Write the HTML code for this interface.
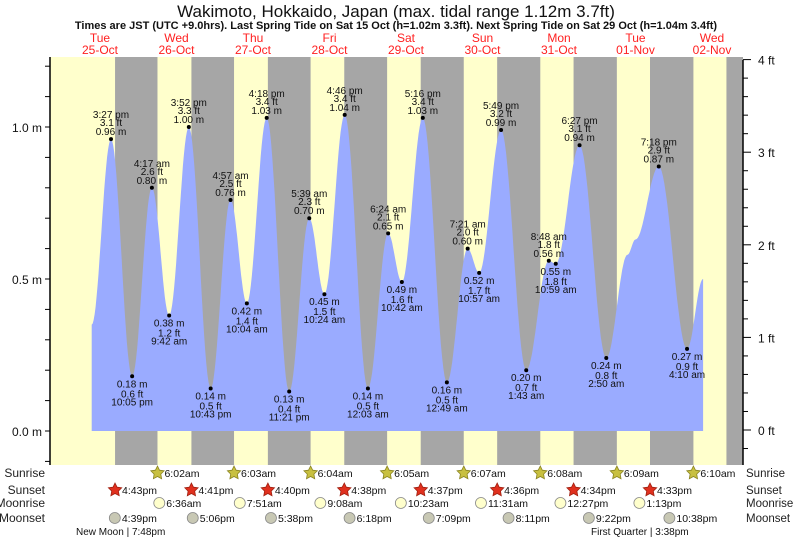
<!DOCTYPE html>
<html><head><meta charset="utf-8"><style>
body{margin:0;background:#fff;}
svg{display:block;font-family:"Liberation Sans",sans-serif;}
</style></head><body>
<svg id="chart" width="793" height="539" viewBox="0 0 793 539" xmlns="http://www.w3.org/2000/svg">
<text x="396" y="17" text-anchor="middle" font-size="17" fill="#111">Wakimoto, Hokkaido, Japan (max. tidal range 1.12m 3.7ft)</text>
<text x="396" y="29" text-anchor="middle" font-size="11" font-weight="bold" fill="#111">Times are JST (UTC +9.0hrs). Last Spring Tide on Sat 15 Oct (h=1.02m 3.3ft). Next Spring Tide on Sat 29 Oct (h=1.04m 3.4ft)</text>
<g id="bands"></g><g id="tide"></g><g id="labels"></g><g id="axes"></g><g id="days"></g><g id="astro"></g>
</svg>
<script>
// hours measured from 25-Oct 00:00
const tideTimes=[9.4,15.45,22.08,28.28,33.7,39.87,46.72,52.95,58.07,64.3,71.35,77.65,82.4,88.77,96.05,102.4,106.7,113.27,120.82,127.35,130.95,137.82,145.72,152.8,154.98,162.45,170.83,177.5,180,187.3,196.17,201.2];
const tideHeights=[0.35,0.96,0.18,0.80,0.38,1.00,0.14,0.76,0.42,1.03,0.13,0.70,0.45,1.04,0.14,0.65,0.49,1.03,0.16,0.60,0.52,0.99,0.20,0.56,0.55,0.94,0.24,0.58,0.63,0.87,0.27,0.50];
const tideLabels=[null,"3:27 pm","10:05 pm","4:17 am","9:42 am","3:52 pm","10:43 pm","4:57 am","10:04 am","4:18 pm","11:21 pm","5:39 am","10:24 am","4:46 pm","12:03 am","6:24 am","10:42 am","5:16 pm","12:49 am","7:21 am","10:57 am","5:49 pm","1:43 am","8:48 am","10:59 am","6:27 pm","2:50 am",null,null,"7:18 pm","4:10 am",null];
const tideFt=[null,"3.1","0.6","2.6","1.2","3.3","0.5","2.5","1.4","3.4","0.4","2.3","1.5","3.4","0.5","2.1","1.6","3.4","0.5","2.0","1.7","3.2","0.7","1.8","1.8","3.1","0.8",null,null,"2.9","0.9",null];
const sunriseH=[30.03,54.05,78.07,102.08,126.12,150.13,174.15,198.17];
const sunriseL=["6:02am","6:03am","6:04am","6:05am","6:07am","6:08am","6:09am","6:10am"];
const sunsetH=[16.72,40.68,64.67,88.63,112.62,136.6,160.57,184.55,208.53];
const sunsetL=["4:43pm","4:41pm","4:40pm","4:38pm","4:37pm","4:36pm","4:34pm","4:33pm"];
const moonriseH=[30.6,55.85,81.13,106.38,131.52,156.45,181.22];
const moonriseL=["6:36am","7:51am","9:08am","10:23am","11:31am","12:27pm","1:13pm"];
const moonsetH=[16.65,41.1,65.63,90.3,115.15,140.18,165.37,190.63];
const moonsetL=["4:39pm","5:06pm","5:38pm","6:18pm","7:09pm","8:11pm","9:22pm","10:38pm"];
const dayNames=["Tue","Wed","Thu","Fri","Sat","Sun","Mon","Tue","Wed"];
const dayDates=["25-Oct","26-Oct","27-Oct","28-Oct","29-Oct","30-Oct","31-Oct","01-Nov","02-Nov"];

const NS="http://www.w3.org/2000/svg";
const PL=50,PR=743,PT=57,PB=465;
function X(h){return 100+(h-12)*76.5/24;}
function Y(m){return 431-m*304;}
function YF(f){return 430-f*92.6;}
function mk(tag,attrs,parent,txt){const e=document.createElementNS(NS,tag);for(const k in attrs)e.setAttribute(k,attrs[k]);if(txt!==undefined)e.textContent=txt;document.getElementById(parent).appendChild(e);return e;}

let r=mk('rect',{x:PL,y:PT,width:PR-PL,height:PB-PT,fill:'#ffffcc'},'bands');


for(let i=0;i<sunsetH.length;i++){
  const x1=Math.max(PL,X(sunsetH[i]));const x2=Math.min(PR,i<sunriseH.length?X(sunriseH[i]):PR);
  if(x2<=x1)continue;
  const n=mk('rect',{x:x1,y:PT,width:x2-x1,height:PB-PT,fill:'#a6a6a6'},'bands');
  
  
}
let pts=[];
for(let i=0;i<tideTimes.length-1;i++){
  const t0=tideTimes[i],t1=tideTimes[i+1],h0=tideHeights[i],h1=tideHeights[i+1];
  for(let k=0;k<20;k++){const f=k/20;const t=t0+(t1-t0)*f;const h=h0+(h1-h0)*(1-Math.cos(Math.PI*f))/2;pts.push(X(t).toFixed(1)+','+Y(h).toFixed(1));}
}
pts.push(X(tideTimes[tideTimes.length-1]).toFixed(1)+','+Y(tideHeights[tideHeights.length-1]).toFixed(1));
const d='M'+X(tideTimes[0]).toFixed(1)+','+Y(0)+' L'+pts.join(' L')+' L'+X(tideTimes[tideTimes.length-1]).toFixed(1)+','+Y(0)+' Z';
let p=mk('path',{d:d,fill:'#9aabff'},'tide');


for(let i=0;i<tideTimes.length;i++){
  if(!tideLabels[i])continue;
  const x=X(tideTimes[i]),y=Y(tideHeights[i]);
  const high=(i>0&&tideHeights[i]>tideHeights[i-1]);
  const c=mk('circle',{cx:x,cy:y,r:2,fill:'#000'},'labels');
  
  
  const lines=high?[tideLabels[i],tideFt[i]+' ft',tideHeights[i].toFixed(2)+' m']:[tideHeights[i].toFixed(2)+' m',tideFt[i]+' ft',tideLabels[i]];
  const offs=high?[-21,-13,-4]:[11,21,29];
  for(let j=0;j<3;j++){
    const t=mk('text',{x:x,y:y+offs[j],'text-anchor':'middle','font-size':'10',fill:'#111'},'labels',lines[j]);
    
    
  }
}
mk('line',{x1:PL,y1:PT,x2:PL,y2:PB,stroke:'#000','stroke-width':1.5},'axes');
mk('line',{x1:PR,y1:PT+3,x2:PR,y2:PB,stroke:'#000','stroke-width':1.5},'axes');
for(let v=-1;v<=12;v++){const y=Y(v/10);if(y<PT||y>PB)continue;mk('line',{x1:PL-5,y1:y,x2:PL,y2:y,stroke:'#000'},'axes');}
[0,0.5,1.0].forEach(v=>{const t=mk('text',{x:PL-8,y:Y(v)+5,'text-anchor':'end','font-size':'12',fill:'#111'},'axes',v.toFixed(1)+' m');});
for(let v=-1;v<=20;v++){const y=YF(v/5);if(y<PT||y>PB)continue;mk('line',{x1:PR,y1:y,x2:PR+(v%5==0?8:5),y2:y,stroke:'#000'},'axes');}
[0,1,2,3,4].forEach(v=>{const t=mk('text',{x:PR+15,y:YF(v)+5,'font-size':'12',fill:'#111'},'axes',v+' ft');});
for(let i=0;i<dayNames.length;i++){
  const x=X(12+24*i);
  const a=mk('text',{x:x,y:42,'text-anchor':'middle','font-size':'12',fill:'#ff2020'},'days',dayNames[i]);
  
  
  const b=mk('text',{x:x,y:54,'text-anchor':'middle','font-size':'12',fill:'#ff2020'},'days',dayDates[i]);
  
  
}
function star(x,y,fill,stroke,name){let s='';for(let k=0;k<10;k++){const a=-Math.PI/2+k*Math.PI/5;const rr=k%2?3.5:7;s+=(x+rr*Math.cos(a)).toFixed(1)+','+(y+rr*Math.sin(a)).toFixed(1)+' ';}
  const e=mk('polygon',{points:s,fill:fill,stroke:stroke,'stroke-width':0.8},'astro');}
function row(times,labels,y,kind){
  for(let i=0;i<labels.length;i++){const x=X(times[i]);
    if(kind==='sunrise')star(x,y-4,'#c8c040','#8a8420','sunrise-icon');
    else if(kind==='sunset')star(x,y-4,'#e0301e','#a02010','sunset-icon');
    else{const c=mk('circle',{cx:x,cy:y-4,r:5.5,fill:kind==='moonrise'?'#ffffcc':'#c8c8b4',stroke:'#888','stroke-width':0.8},'astro');}
    const t=mk('text',{x:x+7,y:y,'font-size':'10.5',fill:'#111'},'astro',labels[i]);}
}
row(sunriseH,sunriseL,477,'sunrise');row(sunsetH,sunsetL,494,'sunset');row(moonriseH,moonriseL,507,'moonrise');row(moonsetH,moonsetL,522,'moonset');
[['Sunrise',477],['Sunset',494],['Moonrise',507],['Moonset',522]].forEach(([n,y])=>{
  const a=mk('text',{x:45,y:y,'text-anchor':'end','font-size':'12',fill:'#222'},'astro',n);
  const b=mk('text',{x:746,y:y,'font-size':'11.5',fill:'#222'},'astro',n);});
let m1=mk('text',{x:76,y:535,'font-size':'10',fill:'#111'},'astro','New Moon | 7:48pm');
let m2=mk('text',{x:591,y:535,'font-size':'10',fill:'#111'},'astro','First Quarter | 3:38pm');
</script>
</body></html>
